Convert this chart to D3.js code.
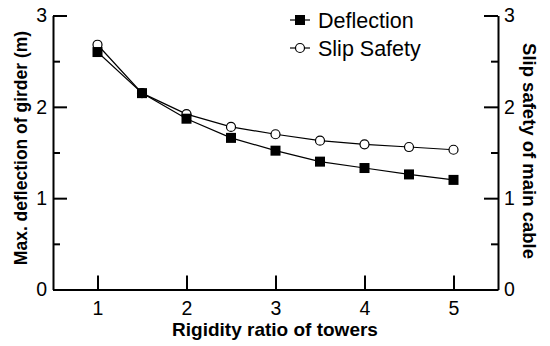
<!DOCTYPE html>
<html><head><meta charset="utf-8">
<script src="https://cdn.jsdelivr.net/npm/d3@7"></script>
<style>body{margin:0;background:#fff}svg{display:block}text{font-family:"Liberation Sans",Arial,sans-serif;fill:#000}</style>
</head><body><svg id="c" width="550" height="346"></svg>
<script>
const ratios = [1, 1.5, 2, 2.5, 3, 3.5, 4, 4.5, 5];
const deflection = [2.60, 2.15, 1.87, 1.66, 1.52, 1.40, 1.33, 1.26, 1.20];
const slipSafety = [2.68, 2.15, 1.92, 1.78, 1.70, 1.63, 1.59, 1.56, 1.53];
const xTicks = [1, 2, 3, 4, 5];
const yTicks = [0, 1, 2, 3];
const yMinor = [0.5, 1.5, 2.5];
const seriesNames = ["Deflection", "Slip Safety"];

const svg = d3.select("#c");
const x = d3.scaleLinear().domain([0.5, 5.5]).range([53, 498]);
const y = d3.scaleLinear().domain([0, 3]).range([289.5, 15.5]);

function styleAxis(g){
  g.selectAll(".domain").attr("stroke","#000").attr("stroke-width",2);
  g.selectAll(".tick line").attr("stroke","#000").attr("stroke-width",2);
  g.selectAll(".tick text").style("font-size","19.5px").attr("fill","#000");
}
svg.append("g").attr("transform","translate(0,289.5)")
  .call(d3.axisBottom(x).tickValues(xTicks).tickSizeInner(-14).tickSizeOuter(0).tickPadding(12).tickFormat(d3.format("d")))
  .call(styleAxis);
svg.append("g").attr("transform","translate(53,0)")
  .call(d3.axisLeft(y).tickValues(yTicks).tickSizeInner(-14).tickSizeOuter(0).tickPadding(6).tickFormat(d3.format("d")))
  .call(styleAxis);
svg.append("g").attr("transform","translate(53,0)")
  .call(d3.axisLeft(y).tickValues(yMinor).tickSizeInner(-7).tickSizeOuter(0).tickFormat(""))
  .call(styleAxis).select(".domain").remove();
svg.append("g").attr("transform","translate(498,0)")
  .call(d3.axisRight(y).tickValues(yTicks).tickSizeInner(-14).tickSizeOuter(0).tickPadding(6).tickFormat(d3.format("d")))
  .call(styleAxis);
svg.append("g").attr("transform","translate(498,0)")
  .call(d3.axisRight(y).tickValues(yMinor).tickSizeInner(-7).tickSizeOuter(0).tickFormat(""))
  .call(styleAxis).select(".domain").remove();

const line = d3.line().x((d,i)=>x(ratios[i])).y(d=>y(d));
svg.append("path").datum(slipSafety).attr("d",line).attr("fill","none").attr("stroke","#000").attr("stroke-width",1.2);
svg.append("path").datum(deflection).attr("d",line).attr("fill","none").attr("stroke","#000").attr("stroke-width",1.2);
svg.append("g").selectAll("circle").data(slipSafety).join("circle")
  .attr("cx",(d,i)=>x(ratios[i])).attr("cy",d=>y(d)).attr("r",4.5)
  .attr("fill","#fff").attr("stroke","#000").attr("stroke-width",1.2);
svg.append("g").selectAll("rect").data(deflection).join("rect")
  .attr("x",(d,i)=>x(ratios[i])-5).attr("y",d=>y(d)-5).attr("width",10).attr("height",10)
  .attr("fill","#000");

// legend
const leg = svg.append("g");
const ly = [20, 48];
seriesNames.forEach((n,i)=>{
  leg.append("line").attr("x1",290).attr("x2",310).attr("y1",ly[i]).attr("y2",ly[i]).attr("stroke","#000").attr("stroke-width",1.2);
  if(i===0) leg.append("rect").attr("x",295).attr("y",ly[i]-5).attr("width",10).attr("height",10).attr("fill","#000");
  else leg.append("circle").attr("cx",300).attr("cy",ly[i]).attr("r",4.5).attr("fill","#fff").attr("stroke","#000").attr("stroke-width",1.2);
  leg.append("text").attr("x",318).attr("y",ly[i]).attr("dy","0.36em").style("font-size","21.5px").text(n);
});

// titles
svg.append("text").attr("x",275).attr("y",336).attr("text-anchor","middle")
  .style("font-size","19px").style("font-weight","bold").text("Rigidity ratio of towers");
svg.append("text").attr("transform","translate(27,148) rotate(-90)").attr("text-anchor","middle")
  .style("font-size","17.5px").style("font-weight","bold").text("Max. deflection of girder (m)");
svg.append("text").attr("transform","translate(523,151) rotate(90)").attr("text-anchor","middle")
  .style("font-size","18.5px").style("font-weight","bold").text("Slip safety of main cable");
</script></body></html>
